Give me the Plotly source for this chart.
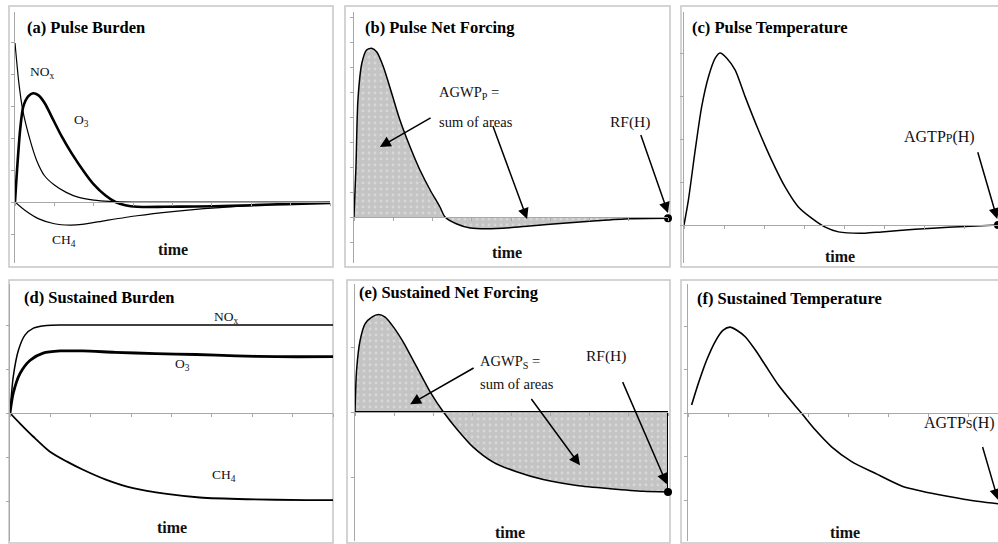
import plotly.graph_objects as go

W, H = 998, 544
SERIF = "Liberation Serif, Times New Roman, serif"
AXIS_GREY = "#a8a8a8"
FRAME_GREY = "#c6c6c6"
FILL_GREY = "#c4c4c4"

# ---------------- (a) Pulse Burden ----------------
a_nox_t = [0, 0.1, 0.2, 0.38, 0.55, 0.75, 1.0, 1.3, 1.6, 2.0, 2.4, 3.0, 4, 5, 6, 7, 8]
a_nox = [4.97, 3.7, 2.85, 1.95, 1.3, 0.82, 0.53, 0.3, 0.15, 0.06, 0.02, 0, 0, 0, 0, 0, 0]
a_o3_t = [0, 0.04, 0.13, 0.21, 0.34, 0.46, 0.59, 0.76, 0.93, 1.19, 1.44, 1.78, 2.0,
          2.3, 2.55, 2.8, 3.1, 3.8, 4.6, 5.5, 6.5, 7.3, 8]
a_o3 = [0, 0.79, 2.25, 2.98, 3.31, 3.4, 3.34, 3.08, 2.67, 2.04, 1.52, 0.9, 0.55,
        0.2, 0.0, -0.1, -0.15, -0.15, -0.14, -0.12, -0.08, -0.05, -0.03]
a_ch4_t = [0, 0.25, 0.59, 1.0, 1.4, 1.7, 2.3, 3.1, 4.0, 4.8, 5.6, 6.4, 7.2, 8]
a_ch4 = [0, -0.26, -0.52, -0.68, -0.72, -0.7, -0.58, -0.43, -0.3, -0.21, -0.14, -0.09, -0.05, -0.03]

# ---------------- (b) Pulse Net Forcing ----------------
b_t = [0, 0.05, 0.1, 0.2, 0.32, 0.45, 0.58, 0.75, 0.96, 1.17, 1.43, 1.68, 1.94, 2.19,
       2.32, 2.62, 2.96, 3.38, 3.97, 4.48, 5.33, 6.18, 7.03, 8.0]
b_rf = [0, 2.0, 4.68, 6.15, 6.68, 6.75, 6.6, 6.0, 4.95, 3.88, 2.8, 1.88, 1.08, 0.4,
        0.0, -0.28, -0.44, -0.47, -0.43, -0.36, -0.25, -0.15, -0.07, -0.05]

# ---------------- (c) Pulse Temperature ----------------
c_t = [0, 0.11, 0.28, 0.44, 0.61, 0.78, 0.9, 1.07, 1.28, 1.53, 1.86, 2.19, 2.53, 2.86,
       3.19, 3.53, 3.86, 4.53, 4.94, 5.78, 6.61, 7.85]
c_temp = [0, 0.58, 1.74, 2.74, 3.44, 3.88, 4.0, 3.88, 3.6, 2.98, 2.21, 1.51, 0.88, 0.42,
          0.16, -0.05, -0.16, -0.19, -0.16, -0.1, -0.05, 0.0]

# ---------------- (d) Sustained Burden ----------------
d_nox_t = [0, 0.08, 0.21, 0.37, 0.58, 0.91, 1.3, 2, 3, 4, 5, 6, 7, 8]
d_nox = [0, 0.82, 1.43, 1.77, 1.93, 1.99, 2.0, 2.0, 2.0, 2.0, 2.0, 2.0, 2.0, 2.0]
d_o3_t = [0, 0.08, 0.25, 0.5, 0.82, 1.24, 1.8, 2.6, 3.6, 4.6, 5.6, 6.6, 8]
d_o3 = [0, 0.45, 0.9, 1.2, 1.36, 1.41, 1.41, 1.38, 1.35, 1.33, 1.3, 1.28, 1.28]
d_ch4_t = [0, 0.25, 0.58, 0.99, 1.4, 1.81, 2.39, 3.05, 3.88, 4.7, 5.86, 7.34, 8]
d_ch4 = [0, -0.24, -0.54, -0.88, -1.1, -1.29, -1.52, -1.71, -1.84, -1.92, -1.96, -1.98, -1.98]

# ---------------- (e) Sustained Net Forcing ----------------
e_t = [0, 0.04, 0.13, 0.26, 0.43, 0.6, 0.77, 0.98, 1.23, 1.58, 1.92, 2.26, 2.6, 3.02,
       3.53, 4.13, 4.81, 5.67, 6.52, 7.37, 8.0]
e_rf = [0, 0.64, 1.1, 1.36, 1.46, 1.5, 1.46, 1.31, 1.08, 0.69, 0.31, 0, -0.26, -0.54,
        -0.77, -0.92, -1.04, -1.13, -1.18, -1.22, -1.23]

# ---------------- (f) Sustained Temperature ----------------
f_t = [0.09, 0.26, 0.47, 0.68, 0.88, 1.05, 1.22, 1.43, 1.68, 1.93, 2.26, 2.59, 2.84,
       3.18, 3.59, 4.09, 4.68, 5.34, 6.09, 6.93, 7.75]
f_temp = [0.19, 0.69, 1.23, 1.65, 1.91, 1.98, 1.91, 1.76, 1.46, 1.11, 0.65, 0.27, 0,
          -0.38, -0.77, -1.11, -1.38, -1.67, -1.84, -1.98, -2.08]

# panel titles
titles = ["(a) Pulse Burden", "(b) Pulse Net Forcing", "(c) Pulse Temperature",
          "(d) Sustained Burden", "(e) Sustained Net Forcing", "(f) Sustained Temperature"]

# plot-area geometry (pixels): axis span, zero line, pixels per y unit, x extent
PANELS = [
    dict(left=15, right=330, top=12, bottom=263, zero=202, ypx=32, xmax=8),
    dict(left=354, right=668, top=12, bottom=263, zero=217, ypx=25, xmax=8),
    dict(left=684, right=998, top=12, bottom=263, zero=225, ypx=43, xmax=7.85),
    dict(left=10, right=333, top=284, bottom=541, zero=413, ypx=44, xmax=8),
    dict(left=355, right=668, top=284, bottom=541, zero=412, ypx=65, xmax=8),
    dict(left=688, right=998, top=284, bottom=541, zero=413.3, ypx=43.5, xmax=7.75),
]
# grey chart-area frames (pixels: x0, y0, x1, y1)
FRAMES = [(9, 6, 333, 267), (345, 6, 670, 267), (681, 6, 1012, 267),
          (9, 280, 333, 543), (347, 280, 670, 543), (681, 280, 1012, 543)]
TITLE_POS = [(25, 27), (363, 27), (690, 27), (22, 297), (357, 292), (695, 298)]

fig = go.Figure()
layout = dict(width=W, height=H, margin=dict(l=0, r=0, t=0, b=0),
              paper_bgcolor="white", plot_bgcolor="white", showlegend=False,
              font=dict(family=SERIF, color="black"))

for i, g in enumerate(PANELS, start=1):
    sfx = "" if i == 1 else str(i)
    y_lo = -(g["bottom"] - g["zero"]) / g["ypx"]
    y_hi = (g["zero"] - g["top"]) / g["ypx"]
    layout["xaxis" + sfx] = dict(
        domain=[g["left"] / W, g["right"] / W], range=[0, g["xmax"]],
        anchor="free", position=1 - g["zero"] / H,
        showline=True, linecolor=AXIS_GREY, linewidth=1,
        ticks="outside", ticklen=3, tickcolor=AXIS_GREY, tick0=0, dtick=1,
        showticklabels=False, showgrid=False, zeroline=False)
    layout["yaxis" + sfx] = dict(
        domain=[1 - g["bottom"] / H, 1 - g["top"] / H], range=[y_lo, y_hi],
        anchor="x" + sfx, showline=True, linecolor=AXIS_GREY, linewidth=1,
        ticks="outside", ticklen=3, tickcolor=AXIS_GREY, tick0=0, dtick=1,
        showticklabels=False, showgrid=False, zeroline=False)

fig.update_layout(**layout)


def ax(i):
    sfx = "" if i == 1 else str(i)
    return dict(xaxis="x" + sfx, yaxis="y" + sfx)


def curve(i, t, y, width=1.5, **kw):
    fig.add_trace(go.Scatter(x=t, y=y, mode="lines", hoverinfo="skip",
                             line=dict(color="black", width=width, shape="spline",
                                       smoothing=0.7), **ax(i), **kw))


dots = dict(shape=".", bgcolor=FILL_GREY, fgcolor="#e9e9e9", size=6, solidity=0.18)

# (a)
curve(1, a_ch4_t, a_ch4, 1.2)
curve(1, a_nox_t, a_nox, 1.2)
curve(1, a_o3_t, a_o3, 2.6)
# (b)
curve(2, b_t, b_rf, 1.5, fill="tozeroy", fillcolor=FILL_GREY, fillpattern=dots)
# (c)
curve(3, c_t, c_temp, 1.5)
# (d)
curve(4, d_nox_t, d_nox, 1.5)
curve(4, d_o3_t, d_o3, 2.8)
curve(4, d_ch4_t, d_ch4, 1.8)
# (e)
curve(5, e_t, e_rf, 1.5, fill="tozeroy", fillcolor=FILL_GREY, fillpattern=dots)
fig.add_trace(go.Scatter(x=[0, e_t[-1], e_t[-1]], y=[0, 0, e_rf[-1]], mode="lines",
                         hoverinfo="skip", line=dict(color="black", width=2), **ax(5)))
# (f)
curve(6, f_t, f_temp, 1.6)

# end-of-horizon markers
for i, t, y in [(2, b_t, b_rf), (3, c_t, c_temp), (5, e_t, e_rf)]:
    fig.add_trace(go.Scatter(x=[t[-1]], y=[y[-1]], mode="markers", hoverinfo="skip",
                             cliponaxis=False,
                             marker=dict(color="black", size=8), **ax(i)))

annotations = []

for (px, py), text in zip(TITLE_POS, titles):
    annotations.append(dict(xref="paper", yref="paper", x=px / W, y=1 - py / H,
                            xanchor="left", yanchor="middle", showarrow=False,
                            text="<b>%s</b>" % text,
                            font=dict(family=SERIF, size=16.5, color="black")))


def label(i, x, y, text, size=15, anchor="center", bold=False):
    sfx = "" if i == 1 else str(i)
    annotations.append(dict(xref="x" + sfx, yref="y" + sfx, x=x, y=y,
                            xanchor=anchor, yanchor="middle", showarrow=False,
                            text=("<b>%s</b>" % text) if bold else text,
                            font=dict(family=SERIF, size=size, color="#111")))


def arrow(i, x_head, y_head, x_tail, y_tail):
    sfx = "" if i == 1 else str(i)
    annotations.append(dict(xref="x" + sfx, yref="y" + sfx, axref="x" + sfx,
                            ayref="y" + sfx, x=x_head, y=y_head, ax=x_tail,
                            ay=y_tail, text=" ", showarrow=True, arrowhead=2,
                            arrowsize=1.45, arrowwidth=1.5, arrowcolor="black",
                            font=dict(size=1), standoff=0, startstandoff=0))


# (a) labels
label(1, 0.69, 4.06, "NO<sub>x</sub>", 13.5)
label(1, 1.68, 2.56, "O<sub>3</sub>", 13.5)
label(1, 1.24, -1.19, "CH<sub>4</sub>", 13.5)
label(1, 4.0, -1.47, "time", 16, bold=True)
# (b) labels
label(2, 2.11, 4.96, "AGWP<sub>P</sub> =", 14.5, "left")
label(2, 2.11, 3.8, "sum of areas", 14.5, "left")
label(2, 7.03, 3.8, "RF(H)", 15.5)
label(2, 3.9, -1.4, "time", 16, bold=True)
arrow(2, 0.66, 2.8, 1.99, 4.0)
arrow(2, 4.41, -0.08, 3.52, 3.72)
arrow(2, 8.0, 0.16, 7.29, 3.36)
# (c) labels
label(3, 6.375, 2.05, 'AGTP<span style="font-size:12px">P</span>(H)', 16)
label(3, 3.9, -0.74, "time", 16, bold=True)
arrow(3, 7.83, 0.14, 7.33, 1.74)
# (d) labels
label(4, 5.35, 2.16, "NO<sub>x</sub>", 13.5)
label(4, 4.28, 1.11, "O<sub>3</sub>", 13.5)
label(4, 5.3, -1.43, "CH<sub>4</sub>", 13.5)
label(4, 4.01, -2.61, "time", 16, bold=True)
# (e) labels
label(5, 3.14, 0.77, "AGWP<sub>S</sub> =", 14.5, "left")
label(5, 3.14, 0.43, "sum of areas", 14.5, "left")
label(5, 6.42, 0.86, "RF(H)", 15.5)
label(5, 3.96, -1.85, "time", 16, bold=True)
arrow(5, 1.41, 0.12, 3.07, 0.69)
arrow(5, 5.75, -0.82, 4.47, 0.23)
arrow(5, 7.97, -1.11, 6.82, 0.49)
# (f) labels
label(6, 7.72, -0.22, 'AGTP<span style="font-size:12px">S</span>(H)', 16, "right")
label(6, 3.93, -2.73, "time", 16, bold=True)
arrow(6, 7.75, -1.99, 7.35, -0.73)

shapes = [dict(type="rect", xref="paper", yref="paper", x0=x0 / W, x1=x1 / W,
               y0=1 - y1 / H, y1=1 - y0 / H, line=dict(color=FRAME_GREY, width=1.5),
               layer="below") for (x0, y0, x1, y1) in FRAMES]

fig.update_layout(annotations=annotations, shapes=shapes)
fig.write_html("out.html")
